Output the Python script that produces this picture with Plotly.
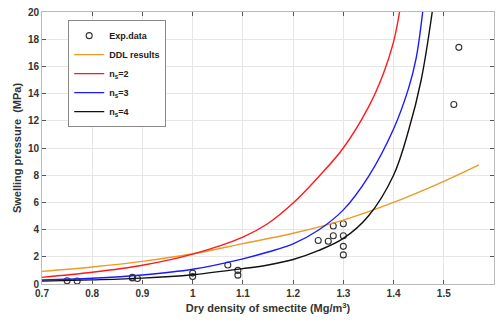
import plotly.graph_objects as go

# Experimental swelling pressure measurements
exp_density = [0.75, 0.77, 0.88, 0.88, 0.89, 1.00, 1.00, 1.07, 1.09, 1.09,
               1.25, 1.27, 1.28, 1.28, 1.30, 1.30, 1.30, 1.30, 1.52, 1.53]
exp_pressure = [0.24, 0.22, 0.50, 0.45, 0.40, 0.80, 0.55, 1.40, 1.00, 0.65,
                3.20, 3.14, 4.26, 3.55, 4.43, 3.55, 2.77, 2.14, 13.2, 17.4]

# DDL model
ddl_density = [0.70, 0.80, 0.90, 1.00, 1.10, 1.20, 1.30, 1.40, 1.50, 1.57]
ddl_pressure = [0.93, 1.25, 1.66, 2.22, 2.97, 3.73, 4.70, 6.00, 7.55, 8.76]

# n_s = 2
ns2_density = [0.70, 0.80, 0.90, 1.00, 1.10, 1.15, 1.20, 1.25, 1.30, 1.35, 1.38, 1.40, 1.412]
ns2_pressure = [0.49, 0.86, 1.38, 2.20, 3.45, 4.45, 5.95, 7.85, 10.0, 13.0, 15.5, 17.8, 20.0]

# n_s = 3
ns3_density = [0.70, 0.80, 0.90, 1.00, 1.10, 1.15, 1.20, 1.25, 1.30, 1.35, 1.40, 1.43, 1.445, 1.458]
ns3_pressure = [0.29, 0.42, 0.66, 1.08, 1.85, 2.35, 2.95, 3.95, 5.45, 7.90, 11.4, 14.4, 16.6, 20.0]

# n_s = 4
ns4_density = [0.70, 0.80, 0.90, 1.00, 1.10, 1.15, 1.20, 1.25, 1.30, 1.35, 1.40, 1.43, 1.455, 1.477]
ns4_pressure = [0.21, 0.30, 0.43, 0.68, 1.13, 1.40, 1.80, 2.45, 3.35, 5.00, 8.00, 11.3, 15.0, 20.0]

x_ticks = [0.7, 0.8, 0.9, 1.0, 1.1, 1.2, 1.3, 1.4, 1.5, 1.6]
x_tick_text = ["0.7", "0.8", "0.9", "1", "1.1", "1.2", "1.3", "1.4", "1.5", "1.6"]
y_ticks = [0, 2, 4, 6, 8, 10, 12, 14, 16, 18, 20]

FONT = "Liberation Sans, Arial, sans-serif"

fig = go.Figure()

fig.add_trace(go.Scatter(
    x=exp_density, y=exp_pressure, mode="markers", name="Exp.data",
    marker=dict(symbol="circle-open", size=6, color="#333333", line=dict(width=1.1)),
))
fig.add_trace(go.Scatter(
    x=ddl_density, y=ddl_pressure, mode="lines", name="DDL results",
    line=dict(color="#EC9A28", width=1.4, shape="spline"),
))
fig.add_trace(go.Scatter(
    x=ns2_density, y=ns2_pressure, mode="lines", name="n<sub>s</sub>=2",
    line=dict(color="#FF1A1A", width=1.4, shape="spline"),
))
fig.add_trace(go.Scatter(
    x=ns3_density, y=ns3_pressure, mode="lines", name="n<sub>s</sub>=3",
    line=dict(color="#1A1AFF", width=1.4, shape="spline"),
))
fig.add_trace(go.Scatter(
    x=ns4_density, y=ns4_pressure, mode="lines", name="n<sub>s</sub>=4",
    line=dict(color="#111111", width=1.4, shape="spline"),
))

axis_common = dict(
    showline=True, linecolor="#BBBBBB", linewidth=1, mirror="allticks",
    ticks="inside", ticklen=4, tickcolor="#555555",
    showgrid=True, gridcolor="#E6E6E6", gridwidth=1,
    zeroline=False,
    tickfont=dict(family=FONT, size=10, color="#333333", weight="bold"),
)

fig.update_layout(
    width=501, height=323,
    margin=dict(l=42, r=6, t=10, b=39),
    paper_bgcolor="white", plot_bgcolor="white",
    showlegend=True,
    legend=dict(
        x=0.058, y=0.97, xanchor="left", yanchor="top",
        bgcolor="white", bordercolor="#888888", borderwidth=1,
        font=dict(family=FONT, size=9, color="#222222", weight="bold"),
        itemwidth=30, tracegroupgap=0,
    ),
    xaxis=dict(
        range=[0.7, 1.6], tickvals=x_ticks, ticktext=x_tick_text,
        title=dict(text="Dry density of smectite (Mg/m<sup>3</sup>)",
                   font=dict(family=FONT, size=11, color="#333333", weight="bold"),
                   standoff=6),
        **axis_common,
    ),
    yaxis=dict(
        range=[0, 20], tickvals=y_ticks,
        title=dict(text="Swelling pressure  (MPa)",
                   font=dict(family=FONT, size=11, color="#333333", weight="bold"),
                   standoff=4),
        **axis_common,
    ),
)

fig.write_html("out.html")
